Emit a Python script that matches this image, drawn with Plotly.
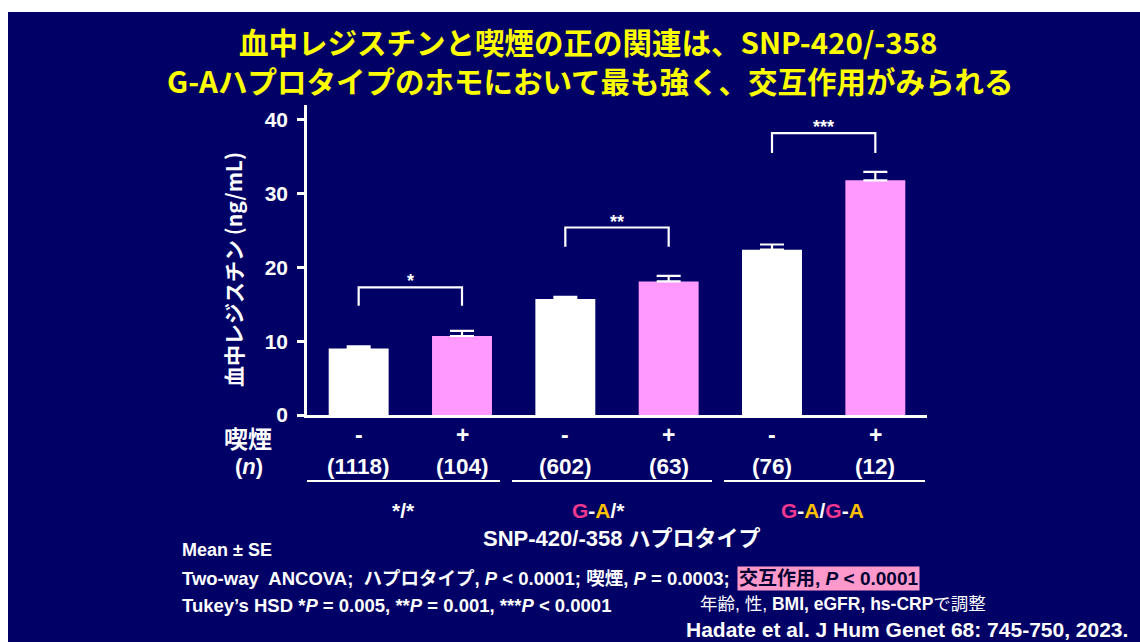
import plotly.graph_objects as go

# ---- data ----
categories = ["*/* -", "*/* +", "G-A/* -", "G-A/* +", "G-A/G-A -", "G-A/G-A +"]
smoking = ["-", "+", "-", "+", "-", "+"]
n_counts = [1118, 104, 602, 63, 76, 12]
means = [9.0, 10.7, 15.7, 18.1, 22.4, 31.8]
se = [0.3, 0.7, 0.3, 0.75, 0.7, 1.15]
haplotype_labels = [
    "*/*",
    "<span style='color:#F0388F'>G</span>-<span style='color:#FFC000'>A</span>/*",
    "<span style='color:#F0388F'>G</span>-<span style='color:#FFC000'>A</span>/"
    "<span style='color:#F0388F'>G</span>-<span style='color:#FFC000'>A</span>",
]
sig_marks = ["*", "**", "***"]
bracket_top = [17.3, 25.4, 38.2]
bracket_low = [14.8, 22.8, 35.5]
y_ticks = [0, 10, 20, 30, 40]

BG = "#000066"
WHITE = "#FFFFFF"
PINK = "#FF99FF"
FONT = "Arial, Liberation Sans, Noto Sans CJK JP, sans-serif"
JFONT = "Noto Sans CJK JP, Arial, sans-serif"

# pixel -> paper helpers (plot area: x 307..927, y 105..415)
L, R, T, B = 307, 927, 105, 415
def px(x):
    return (x - L) / (R - L)
def py(y):
    return (B - y) / (B - T)

fig = go.Figure()

bar_colors = [WHITE if s == "-" else PINK for s in smoking]
fig.add_trace(go.Bar(
    x=categories, y=means,
    marker=dict(color=bar_colors, line=dict(width=0)),
    error_y=dict(type="data", array=se, arrayminus=[0] * len(se), symmetric=False,
                 color=WHITE, thickness=2.2, width=12),
    showlegend=False, hoverinfo="skip",
))

# significance brackets
for g in range(3):
    a, b = categories[2 * g], categories[2 * g + 1]
    fig.add_trace(go.Scatter(
        x=[a, a, b, b], y=[bracket_low[g], bracket_top[g], bracket_top[g], bracket_low[g]],
        mode="lines", line=dict(color=WHITE, width=2.2), showlegend=False,
        hoverinfo="skip", cliponaxis=False,
    ))

annotations = []
def ann(x, y, text, font, xref="paper", xanchor="center", yanchor="middle", **kw):
    d = dict(x=x, xref=xref, y=y, yref="paper", text=text, showarrow=False, font=font,
             xanchor=xanchor, yanchor=yanchor)
    d.update(kw)
    annotations.append(d)

for g in range(3):
    annotations.append(dict(
        x=2 * g + 0.5, xref="x", y=bracket_top[g], yref="y", yanchor="bottom", xanchor="center",
        text=f"<b>{sig_marks[g]}</b>", showarrow=False,
        font=dict(family=FONT, size=18, color=WHITE), yshift=-6,
    ))

# smoking +/- and n
for i, c in enumerate(categories):
    ann(c, py(435), f"<b>{smoking[i]}</b>", dict(family=FONT, size=23, color=WHITE), xref="x")
    ann(c, py(466), f"<b>({n_counts[i]})</b>", dict(family=FONT, size=22.5, color=WHITE), xref="x")

ann(px(248), py(437), "<b>喫煙</b>", dict(family=JFONT, size=24, color=WHITE))
ann(px(249), py(466), "<b>(<i>n</i>)</b>", dict(family=FONT, size=22, color=WHITE))

group_x = [403, 598, 822]
for g in range(3):
    ann(px(group_x[g]), py(511), f"<b>{haplotype_labels[g]}</b>", dict(family=FONT, size=21, color=WHITE))
ann(px(622), py(538), "<b>SNP-420/-358 ハプロタイプ</b>", dict(family=FONT, size=22, color=WHITE))

# y-axis title
ann(px(233), py(270), "<b>血中レジスチン (ng/mL)</b>", dict(family=JFONT, size=21, color=WHITE), textangle=-90)

# title
ann(px(588), py(41), "<b>血中レジスチンと喫煙の正の関連は、SNP-420/-358</b>",
    dict(family=JFONT, size=29.5, color="#FFFF00"))
ann(px(590), py(79.5), "<b>G-Aハプロタイプのホモにおいて最も強く、交互作用がみられる</b>",
    dict(family=JFONT, size=29.5, color="#FFFF00"))

# footnotes
foot = dict(family=FONT, size=18.5, color=WHITE)
ann(px(180), py(550), "<b>Mean ± SE</b>", dict(family=FONT, size=18, color=WHITE), xanchor="left")
ann(px(180), py(578), "<b>Two-way  ANCOVA;  ハプロタイプ, <i>P</i> &lt; 0.0001; 喫煙, <i>P</i> = 0.0003;</b>",
    foot, xanchor="left")
ann(px(737), py(578), "<b>交互作用, <i>P</i> &lt; 0.0001</b>",
    dict(family=FONT, size=19, color="#000033"), xanchor="left", bgcolor="#FF99CC", borderpad=1)
ann(px(180), py(605), "<b>Tukey’s HSD *<i>P</i> = 0.005, **<i>P</i> = 0.001, ***<i>P</i> &lt; 0.0001</b>",
    foot, xanchor="left")
ann(px(698), py(604), "年齢, 性, <b>BMI, eGFR, hs-CRP</b>で調整",
    dict(family=FONT, size=17.5, color=WHITE), xanchor="left")
ann(px(1130), py(629), "<b>Hadate et al. J Hum Genet 68: 745-750, 2023.</b>",
    dict(family=FONT, size=21, color=WHITE), xanchor="right")

shapes = []
# group underlines
for x0, x1 in [(307, 500), (512, 712), (724, 925)]:
    shapes.append(dict(type="line", xref="paper", yref="paper", x0=px(x0), x1=px(x1),
                       y0=py(481), y1=py(481), line=dict(color=WHITE, width=2)))
# white border of the slide image (top and left)
shapes.append(dict(type="rect", xref="paper", yref="paper", x0=px(-2), x1=px(1142),
                   y0=py(12), y1=py(-2), fillcolor=WHITE, line=dict(width=0)))
shapes.append(dict(type="rect", xref="paper", yref="paper", x0=px(-2), x1=px(8),
                   y0=py(644), y1=py(-2), fillcolor=WHITE, line=dict(width=0)))

fig.update_layout(
    width=1140, height=642,
    margin=dict(l=L, r=1140 - R, t=T, b=642 - B, pad=0),
    paper_bgcolor=BG, plot_bgcolor=BG,
    bargap=0.42,
    xaxis=dict(type="category", range=[-0.5, 5.5], showline=True, linecolor=WHITE, linewidth=2.5,
               showticklabels=False, ticks="", showgrid=False, zeroline=False, fixedrange=True),
    yaxis=dict(range=[0, 42], tickvals=y_ticks, showline=True, linecolor=WHITE, linewidth=2.5,
               ticks="outside", ticklen=7, tickwidth=2.5, tickcolor=WHITE, showgrid=False,
               zeroline=False, tickfont=dict(family=FONT, size=21, color=WHITE, weight="bold"),
               ticklabelstandoff=5),
    annotations=annotations,
    shapes=shapes,
    font=dict(family=FONT, color=WHITE),
)

fig.write_html("out.html", config={"displayModeBar": False},
               post_script="document.body.style.margin='0';document.body.style.overflow='hidden';")
